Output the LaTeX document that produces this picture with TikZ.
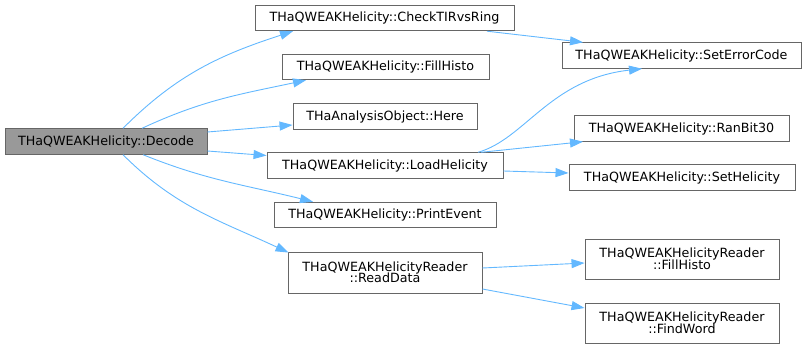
\documentclass[tikz,border=0pt]{standalone}
\usepackage{fontspec}
\setmainfont{DejaVu Sans}
\usetikzlibrary{arrows.meta}
\definecolor{edgeBlue}{HTML}{63B8FF}
\definecolor{boxLine}{HTML}{666666}
\definecolor{rootFill}{HTML}{999999}
\begin{document}
\begin{tikzpicture}[x=1pt, y=1pt,
    funcStyle/.style={rectangle, draw=boxLine, fill=white, line width=0.9pt, inner xsep=3pt, inner ysep=0pt, minimum height=25.5pt, align=center, font=\fontsize{12.7}{13.5}\selectfont},
    rootStyle/.style={funcStyle, fill=rootFill},
    edgeStyle/.style={draw=edgeBlue, line width=0.9pt, -{Triangle[length=13pt,width=9pt]}}]
    \useasboundingbox (0,0) rectangle (807,349);

    \node[rootStyle, minimum width=202pt](decode) at (106, 207.5) {THaQWEAKHelicity::Decode};

    \node[funcStyle, minimum width=259pt](check) at (384.5, 331) {THaQWEAKHelicity::CheckTIRvsRing};
    \node[funcStyle, minimum width=207pt](fill) at (385.5, 282) {THaQWEAKHelicity::FillHisto};
    \node[funcStyle, minimum width=184pt](here) at (385, 232.5) {THaAnalysisObject::Here};
    \node[funcStyle, minimum width=236pt](load) at (385, 183.5) {THaQWEAKHelicity::LoadHelicity};
    \node[funcStyle, minimum width=222pt](print) at (385, 134) {THaQWEAKHelicity::PrintEvent};
    \node[funcStyle, minimum width=194pt, minimum height=41pt](read) at (385, 76.5) {THaQWEAKHelicityReader\\[-2pt]::ReadData};

    \node[funcStyle, minimum width=239pt](error) at (681.5, 293.5) {THaQWEAKHelicity::SetErrorCode};
    \node[funcStyle, minimum width=215pt](ranbit) at (681.5, 220.5) {THaQWEAKHelicity::RanBit30};
    \node[funcStyle, minimum width=226pt](sethel) at (682, 171.5) {THaQWEAKHelicity::SetHelicity};
    \node[funcStyle, minimum width=194pt, minimum height=40pt](rfill) at (682, 90) {THaQWEAKHelicityReader\\[-2pt]::FillHisto};
    \node[funcStyle, minimum width=194pt, minimum height=40pt](find) at (682, 26) {THaQWEAKHelicityReader\\[-2pt]::FindWord};

    % calls out of Decode
    \draw[edgeStyle] ([xshift=17pt]decode.north) to[out=45, in=198] ([xshift=-91.5pt]check.south);
    \draw[edgeStyle] ([xshift=36pt]decode.north) to[out=25, in=192] ([xshift=-79.5pt]fill.south);
    \draw[edgeStyle] ([yshift=9.5pt]decode.east) -- ([yshift=-8.5pt]here.west);
    \draw[edgeStyle] ([yshift=-9.5pt]decode.east) -- ([yshift=10pt]load.west);
    \draw[edgeStyle] ([xshift=37pt]decode.south) to[out=-22, in=166] ([xshift=-72pt]print.north);
    \draw[edgeStyle] ([xshift=17pt]decode.south) to[out=-45, in=155] ([xshift=1pt,yshift=-1pt]read.north west);

    % second level calls
    \draw[edgeStyle] ([xshift=102.5pt]check.south) -- ([xshift=-98.5pt]error.north);
    \draw[edgeStyle] ([xshift=93pt]load.north) .. controls (525,210) and (550,270) .. ([xshift=-39.5pt]error.south);
    \draw[edgeStyle] ([xshift=96pt]load.north) -- ([xshift=-98.5pt]ranbit.south);
    \draw[edgeStyle] ([yshift=-5.5pt]load.east) -- ([yshift=4.5pt]sethel.west);
    \draw[edgeStyle] ([yshift=4.5pt]read.east) -- ([yshift=-4pt]rfill.west);
    \draw[edgeStyle] ([yshift=-16.5pt]read.east) -- ([yshift=15pt]find.west);
\end{tikzpicture}
\end{document}
